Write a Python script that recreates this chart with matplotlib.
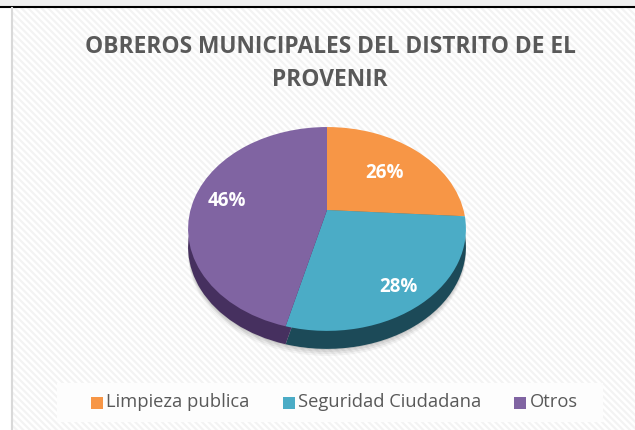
"""
plot.py
Pseudo 3D pie of municipal workers by area.
Output: out.png
"""

import numpy as np
import matplotlib
matplotlib.use("Agg")
import matplotlib.pyplot as plt
from matplotlib.patches import Rectangle
from matplotlib.path import Path
from matplotlib.transforms import Transform

TITLE = "OBREROS MUNICIPALES DEL DISTRITO DE EL\nPROVENIR"
categories = ["Limpieza publica", "Seguridad Ciudadana", "Otros"]
shares = [26, 28, 46]
top_colors = ["#F79646", "#4BACC6", "#8064A2"]
side_colors = ["#A9621F", "#1C4A58", "#46305F"]

W, H = 635, 430
CX, CY = 327, 210
TILT = 0.186
RX, RY = 136.5, 98.4
DEPTH = 18

plt.rcParams["font.family"] = ["Open Sans", "DejaVu Sans"]
plt.rcParams["hatch.linewidth"] = 1.6
plt.rcParams["hatch.color"] = "#F3F3F3"


class Tilted(Transform):
    # unit pie -> pixel-like coordinates, far edge squeezed
    input_dims = output_dims = 2

    def __init__(self, dy=0):
        super().__init__()
        self.dy = dy

    def transform_non_affine(self, xy):
        xy = np.asarray(xy, dtype=float)
        w = 1 + TILT * xy[:, 1]
        return np.column_stack([CX + RX * xy[:, 0] / w,
                                CY - RY * xy[:, 1] / w + self.dy])

    def transform_path_non_affine(self, path):
        return Path(self.transform_non_affine(path.vertices), path.codes)


fig = plt.figure(figsize=(W / 100, H / 100), dpi=100, facecolor="white")
ax = fig.add_axes([0, 0, 1, 1])

# soft shadow under the pie
for grow, alpha in [(7, 0.04), (5, 0.05), (3, 0.06), (1, 0.08)]:
    wedges, _ = ax.pie([sum(shares)], colors=["black"], radius=1, center=(0, 0),
                       frame=False, wedgeprops={"alpha": alpha, "lw": 0})
    for wedge in wedges:
        wedge.set_transform(Tilted(DEPTH + grow) + ax.transData)
        wedge.set_zorder(1.5)
        wedge.set_clip_on(False)

# side walls first, then the top face
for dy, colors, z in [(DEPTH, side_colors, 2), (0, top_colors, 3)]:
    wedges, _ = ax.pie(shares, colors=colors, startangle=90, counterclock=False,
                       radius=1, center=(0, 0), frame=False, normalize=True)
    for wedge in wedges:
        wedge.set_transform(Tilted(dy) + ax.transData)
        wedge.set_zorder(z)
        wedge.set_clip_on(False)

ax.set_xlim(0, W)
ax.set_ylim(H, 0)
ax.set_aspect("auto")
ax.axis("off")

# page background
ax.add_patch(Rectangle((0, 0), W, 6, fc="#F0F0F0", ec="none", zorder=0))
ax.add_patch(Rectangle((13, 8), W - 13, H - 8, fc="none", ec="#F3F3F3", lw=0,
                       hatch="\\\\\\\\\\", zorder=0.5))
ax.plot([0, W], [6.5, 6.5], color="black", lw=1.5, zorder=1)
ax.plot([12, 12], [8, H], color="#D9D9D9", lw=1.5, zorder=1)
ax.add_patch(Rectangle((57, 383), 546, 39, fc="#FDFDFD", ec="none", zorder=1))

ax.text(330, 63.5, TITLE, ha="center", va="center", fontsize=16.4, fontweight="bold",
        color="#595959", linespacing=1.48, zorder=5)

label_spots = [(385, 173), (398, 287), (227, 201)]
for share, (lx, ly) in zip(shares, label_spots):
    ax.text(lx, ly, f"{share}%", ha="center", va="center", fontsize=13.5,
            fontweight="bold", color="white", zorder=5)

# legend
legend_x = [91, 283, 514]
for name, color, lx in zip(categories, top_colors, legend_x):
    ax.add_patch(Rectangle((lx, 397), 12, 12, fc=color, ec="none", zorder=5))
    ax.text(lx + 15.5, 402, name, ha="left", va="center", fontsize=13.2,
            color="#595959", zorder=5)

fig.savefig("out.png", dpi=100)
